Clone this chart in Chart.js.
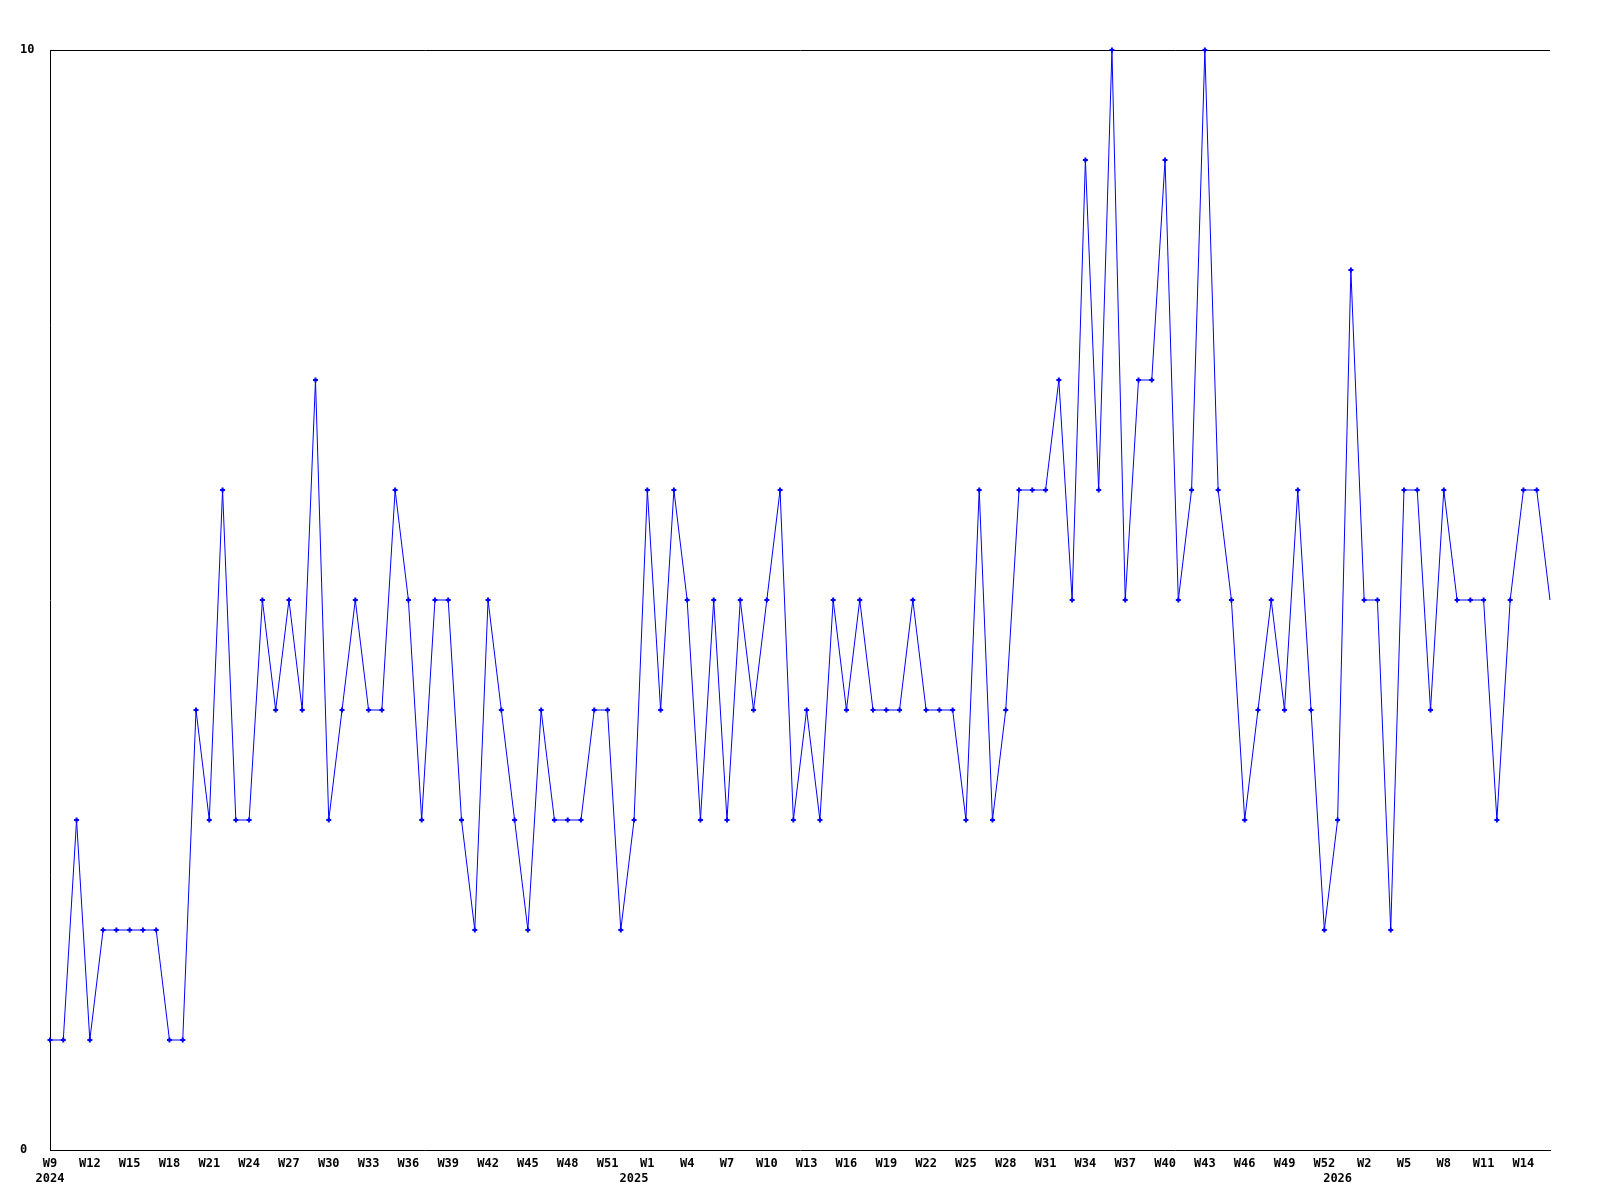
<!DOCTYPE html>
<html>
<head>
<meta charset="utf-8">
<title>Weekly count</title>
<script src="https://cdn.jsdelivr.net/npm/chart.js@4"></script>
<style>
  html, body { margin: 0; padding: 0; background: #fff; }
  canvas { display: block; }
</style>
</head>
<body>
<canvas id="weekChart" width="1600" height="1200"></canvas>
<script>
// weeks shown on the x axis (2024 W9 .. 2026 W16)
const weeks2024 = ["W9","W10","W11","W12","W13","W14","W15","W16","W17","W18","W19","W20","W21","W22","W23","W24","W25","W26","W27","W28","W29","W30","W31","W32","W33","W34","W35","W36","W37","W38","W39","W40","W41","W42","W43","W44","W45","W46","W47","W48","W49","W50","W51","W52","W53"];
const weeks2025 = ["W1","W2","W3","W4","W5","W6","W7","W8","W9","W10","W11","W12","W13","W14","W15","W16","W17","W18","W19","W20","W21","W22","W23","W24","W25","W26","W27","W28","W29","W30","W31","W32","W33","W34","W35","W36","W37","W38","W39","W40","W41","W42","W43","W44","W45","W46","W47","W48","W49","W50","W51","W52","W53"];
const weeks2026 = ["W1","W2","W3","W4","W5","W6","W7","W8","W9","W10","W11","W12","W13","W14","W15","W16"];
const labels = weeks2024.concat(weeks2025, weeks2026);

// year captions and the week index where each year starts
const years = ["2024", "2025", "2026"];
const yearAt = [0, 44, 97];

// weekly values
const counts = [
  1, 1, 3, 1, 2, 2, 2, 2, 2, 1, 1, 4, 3, 6, 3, 3, 5, 4, 5, 4,
  7, 3, 4, 5, 4, 4, 6, 5, 3, 5, 5, 3, 2, 5, 4, 3, 2, 4, 3, 3,
  3, 4, 4, 2, 3, 6, 4, 6, 5, 3, 5, 3, 5, 4, 5, 6, 3, 4, 3, 5,
  4, 5, 4, 4, 4, 5, 4, 4, 4, 3, 6, 3, 4, 6, 6, 6, 7, 5, 9, 6,
  10, 5, 7, 7, 9, 5, 6, 10, 6, 5, 3, 4, 5, 4, 6, 4, 2, 3, 8, 5,
  5, 2, 6, 6, 4, 6, 5, 5, 5, 3, 5, 6, 6, 5
];

const yTicks = [0, 10];
const labelEvery = 3;

const monoFont = { family: "'DejaVu Sans Mono', 'Liberation Mono', monospace", size: 12, weight: 'bold' };

const ctx = document.getElementById('weekChart').getContext('2d');
const weekChart = new Chart(ctx, {
  type: 'line',
  data: {
    labels: labels,
    datasets: [{
      data: counts,
      borderColor: '#0000ff',
      backgroundColor: '#0000ff',
      borderWidth: 1,
      tension: 0,
      fill: false,
      pointStyle: 'cross',
      pointRadius: (c) => c.dataIndex === counts.length - 1 ? 0 : 2.5,
      pointBorderWidth: 2,
      pointBorderColor: '#0000ff',
      clip: false
    }]
  },
  options: {
    responsive: false,
    animation: false,
    layout: { padding: { top: 50, right: 50, left: 20, bottom: 0 } },
    plugins: {
      legend: { display: false },
      tooltip: { enabled: false }
    },
    scales: {
      x: {
        type: 'category',
        offset: false,
        grid: { display: false, drawTicks: false },
        border: { display: true, color: '#000', width: 1 },
        ticks: {
          autoSkip: false,
          maxRotation: 0,
          minRotation: 0,
          padding: 7,
          color: '#000',
          font: monoFont,
          callback: function (val, i) {
            return i % labelEvery === 0 ? labels[i] : '';
          }
        },
        afterFit: (s) => { s.height = 22; }
      },
      years: {
        type: 'category',
        position: 'bottom',
        labels: labels,
        offset: false,
        grid: { display: false, drawTicks: false },
        border: { display: false },
        ticks: {
          autoSkip: false,
          maxRotation: 0,
          minRotation: 0,
          padding: 0,
          color: '#000',
          font: monoFont,
          callback: function (val, i) {
            const k = yearAt.indexOf(i);
            return k >= 0 ? years[k] : '';
          }
        },
        afterFit: (s) => { s.height = 28; }
      },
      y: {
        min: 0,
        max: 10,
        grid: {
          drawTicks: false,
          lineWidth: 1,
          color: (c) => c.tick && c.tick.value === 10 ? '#000' : 'rgba(0,0,0,0)'
        },
        border: { display: true, color: '#000', width: 1 },
        afterBuildTicks: (s) => { s.ticks = yTicks.map(v => ({ value: v })); },
        ticks: {
          crossAlign: 'far',
          padding: 0,
          color: '#000',
          font: monoFont
        },
        afterFit: (s) => { s.width = 30; }
      }
    }
  }
});
</script>
</body>
</html>
